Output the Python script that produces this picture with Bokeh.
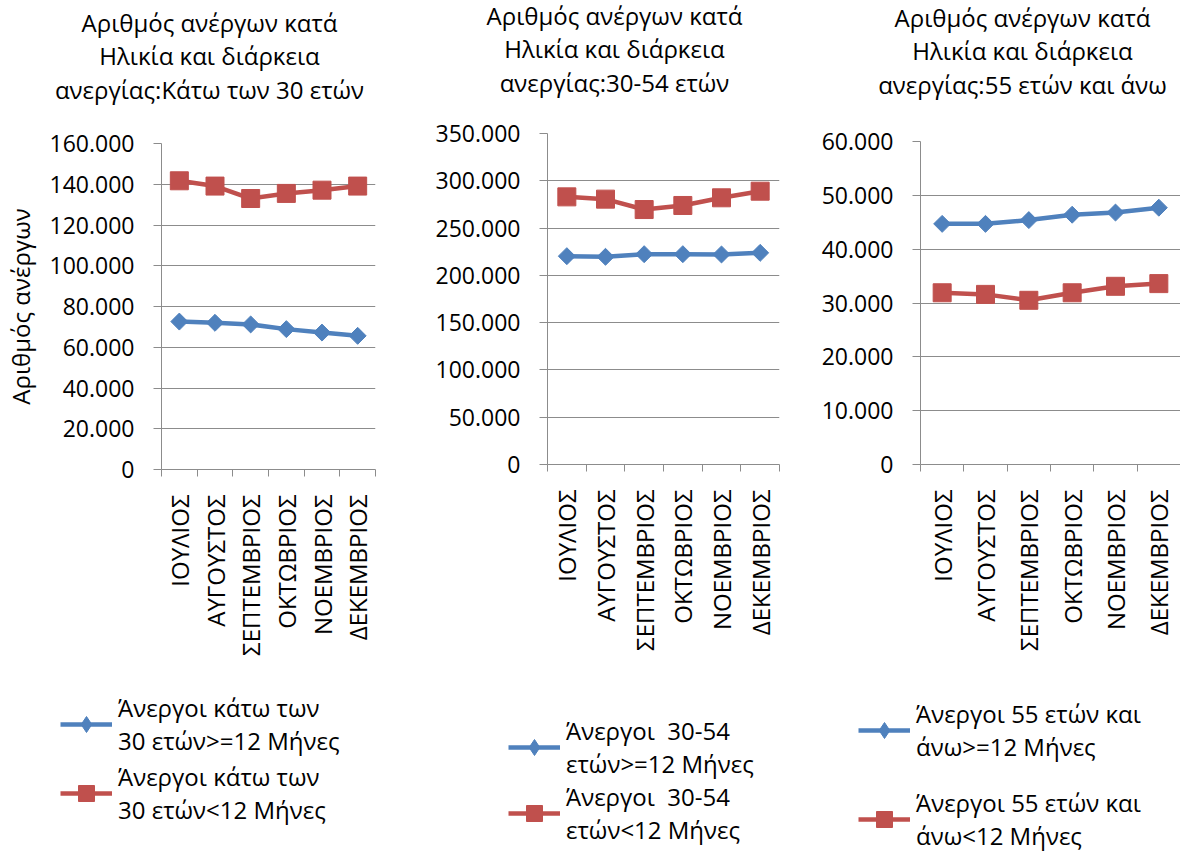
import math
from bokeh.plotting import figure
from bokeh.layouts import row, column
from bokeh.models import (FixedTicker, SingleIntervalTicker, CustomJSTickFormatter,
                          Legend, LegendItem, Range1d)
from bokeh.core.properties import value
from bokeh.embed import file_html
from bokeh.resources import INLINE

# ---------------- data ----------------
months = ["ΙΟΥΛΙΟΣ", "ΑΥΓΟΥΣΤΟΣ", "ΣΕΠΤΕΜΒΡΙΟΣ", "ΟΚΤΩΒΡΙΟΣ", "ΝΟΕΜΒΡΙΟΣ", "ΔΕΚΕΜΒΡΙΟΣ"]

title_u30 = "Αριθμός ανέργων κατά\nΗλικία και διάρκεια\nανεργίας:Κάτω των 30 ετών"
title_mid = "Αριθμός ανέργων κατά\nΗλικία και διάρκεια\nανεργίας:30-54 ετών"
title_o55 = "Αριθμός ανέργων κατά\nΗλικία και διάρκεια\nανεργίας:55 ετών και άνω"

u30_long = [72600, 72000, 71200, 68900, 67200, 65600]
u30_short = [141700, 139100, 133000, 135500, 137100, 139100]
mid_long = [220300, 219600, 222400, 222400, 222100, 223800]
mid_short = [283000, 280600, 269600, 273900, 282000, 289000]
o55_long = [44700, 44700, 45400, 46400, 46800, 47700]
o55_short = [31900, 31600, 30500, 31900, 33100, 33600]

lbl_u30_long = "Άνεργοι κάτω των\n30 ετών>=12 Μήνες"
lbl_u30_short = "Άνεργοι κάτω των\n30 ετών<12 Μήνες"
lbl_mid_long = "Άνεργοι  30-54\nετών>=12 Μήνες"
lbl_mid_short = "Άνεργοι  30-54\nετών<12 Μήνες"
lbl_o55_long = "Άνεργοι 55 ετών και\nάνω>=12 Μήνες"
lbl_o55_short = "Άνεργοι 55 ετών και\nάνω<12 Μήνες"

y_label = "Αριθμός ανέργων"

y_max_u30, y_step_u30 = 160000, 20000
y_max_mid, y_step_mid = 350000, 50000
y_max_o55, y_step_o55 = 60000, 10000

# ---------------- style ----------------
FONT = "Open Sans"
FS = "24px"
TICK_FS = "23px"
BLUE = "#4F81BD"
RED = "#C0504D"
GRID = "#8C8C8C"
TITLE_LH = 1.02
LEG_LH = 1.23
HT, HC, HL = 118, 572, 162   # title / chart / legend heights


def bare(w, h, xr, yr, **borders):
    p = figure(width=w, height=h, output_backend="svg", toolbar_location=None,
               x_axis_type=None, y_axis_type=None, x_range=xr, y_range=yr,
               frame_align=False, **borders)
    p.outline_line_color = None
    p.xgrid.visible = False
    p.ygrid.visible = False
    return p


def panel(title, s_long, s_short, l_long, l_short, ymax, ystep, g, ylabel=None):
    w = g["w"]
    # ---- title ----
    pt = bare(w, HT, Range1d(0, w), Range1d(0, HT), min_border=0)
    pt.text(x=[g["tx"]], y=[HT - g["ty"]], text=[title],
            text_align="center", text_baseline="top",
            text_font=value(FONT), text_font_size=FS, text_color="black",
            text_line_height=TITLE_LH)

    # ---- chart ----
    p = figure(width=w, height=HC, output_backend="svg", toolbar_location=None,
               x_range=Range1d(0, len(months)), y_range=Range1d(0, ymax),
               frame_align=False,
               min_border_left=g["bl"], min_border_right=g["br"],
               min_border_top=g["bt"], min_border_bottom=HC - g["bt"] - g["fh"])
    p.outline_line_color = None

    xs = [i + 0.5 for i in range(len(months))]

    xa = p.xaxis[0]
    xa.ticker = FixedTicker(ticks=xs, minor_ticks=list(range(len(months) + 1)))
    xa.formatter = CustomJSTickFormatter(args=dict(labels=months),
                                         code="return labels[Math.floor(tick)];")
    xa.major_tick_line_color = None
    xa.major_tick_out = 6
    xa.minor_tick_line_color = GRID
    xa.minor_tick_out = 7
    xa.minor_tick_in = 0
    xa.axis_line_color = GRID
    xa.major_label_orientation = math.pi / 2
    xa.major_label_standoff = 18
    xa.major_label_text_font = FONT
    xa.major_label_text_font_size = FS
    xa.major_label_text_color = "black"

    ya = p.yaxis[0]
    ya.ticker = SingleIntervalTicker(interval=ystep, num_minor_ticks=0)
    ya.formatter = CustomJSTickFormatter(
        code="return String(Math.round(tick)).replace(/\\B(?=(\\d{3})+(?!\\d))/g, '.');")
    ya.axis_line_color = GRID
    ya.major_tick_line_color = GRID
    ya.major_tick_out = 8
    ya.major_tick_in = 0
    ya.minor_tick_line_color = None
    ya.major_label_standoff = 19
    ya.major_label_text_font = FONT
    ya.major_label_text_font_size = TICK_FS
    ya.major_label_text_color = "black"
    if ylabel:
        ya.axis_label = ylabel
        ya.axis_label_text_font = FONT
        ya.axis_label_text_font_size = FS
        ya.axis_label_text_font_style = "normal"
        ya.axis_label_text_color = "black"
        ya.axis_label_standoff = 10

    p.xgrid.grid_line_color = None
    p.ygrid.grid_line_color = GRID
    p.ygrid.grid_line_width = 1
    p.ygrid.ticker = ya.ticker

    p.line(xs, s_long, line_color=BLUE, line_width=4.5)
    p.scatter(xs, s_long, marker="square", angle=math.pi / 4, size=12,
              fill_color=BLUE, line_color=BLUE)
    p.line(xs, s_short, line_color=RED, line_width=4.5)
    p.scatter(xs, s_short, marker="square", size=18,
              fill_color=RED, line_color=RED)

    # ---- legend (proxy renderers carry the legend glyph styles) ----
    pl = bare(w, HL, Range1d(0, 1), Range1d(0, 1),
              min_border_left=0, min_border_top=0,
              min_border_right=0, min_border_bottom=0)
    nan = [float("nan")]
    a = pl.line(nan, nan, line_color=BLUE, line_width=4.5)
    b = pl.scatter(nan, nan, marker="diamond", fill_color=BLUE, line_color=BLUE)
    c = pl.line(nan, nan, line_color=RED, line_width=4.5)
    d = pl.scatter(nan, nan, marker="square", fill_color=RED, line_color=RED)
    leg = Legend(items=[LegendItem(label=l_long, renderers=[a, b]),
                        LegendItem(label=l_short, renderers=[c, d])],
                 location=(g["lx"], HL - g["ly"] - g["lh"]),
                 glyph_width=52, glyph_height=40, label_standoff=6,
                 spacing=g["ls"], padding=0, margin=0,
                 border_line_color=None, background_fill_alpha=0,
                 label_text_font=FONT, label_text_font_size=FS,
                 label_text_color="black", label_text_line_height=LEG_LH)
    pl.add_layout(leg, "center")

    return column(pt, p, pl, spacing=0)


# geometry (px, local to each column); columns: 0-400, 400-795, 795-1180
g1 = dict(w=400, bl=155, br=25, bt=25, fh=326, tx=209, ty=5,
          lx=60, ly=0, ls=3)
g2 = dict(w=395, bl=147, br=16, bt=15, fh=331, tx=214, ty=-2,
          lx=108, ly=23, ls=0)
g3 = dict(w=385, bl=125, br=0, bt=23, fh=323, tx=227, ty=0,
          lx=63, ly=6, ls=23)
for g in (g1, g2, g3):
    g["lh"] = int(4 * 24 * 1.17 * 1.19 + g["ls"])   # approx. legend height

c1 = panel(title_u30, u30_long, u30_short, lbl_u30_long, lbl_u30_short,
           y_max_u30, y_step_u30, g1, ylabel=y_label)
c2 = panel(title_mid, mid_long, mid_short, lbl_mid_long, lbl_mid_short,
           y_max_mid, y_step_mid, g2)
c3 = panel(title_o55, o55_long, o55_short, lbl_o55_long, lbl_o55_short,
           y_max_o55, y_step_o55, g3)

layout = row(c1, c2, c3, spacing=0)
open("out.html", "w").write(file_html(layout, INLINE))
